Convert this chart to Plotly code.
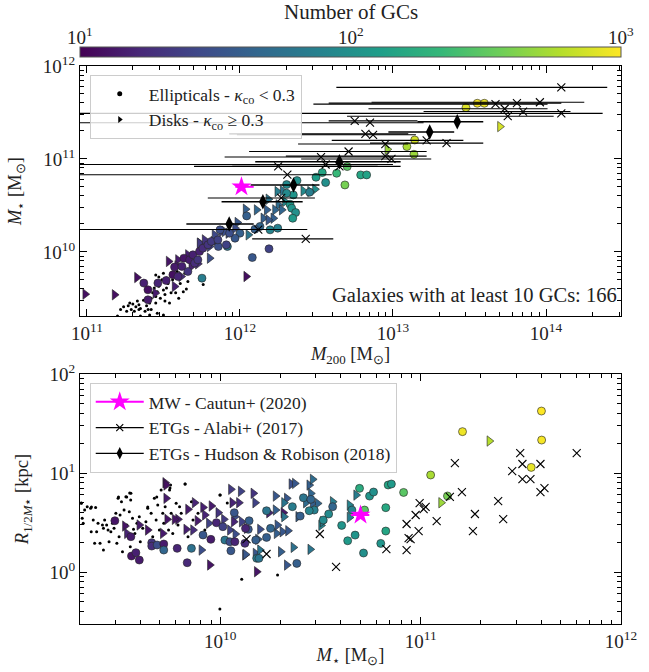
import numpy as np
import plotly.graph_objects as go

# ---------------- DATA (log10 values) ----------------
# Top panel: simulated galaxies with >= 10 GCs  (log M200, log M*, N_GC)
top_ell_lm200 = [13.477, 13.551, 13.597, 13.142, 13.091, 13.137, 12.701, 12.632, 12.686, 12.538,
                 12.497, 12.560, 12.789, 12.828, 12.455, 12.373, 12.305, 12.349, 12.305, 12.327,
                 12.338, 12.364, 12.345, 12.044, 12.131, 12.197, 12.247, 12.098, 12.000, 11.968,
                 11.918, 11.859, 11.870, 12.190, 12.081, 11.752, 11.372, 11.399, 11.399, 11.464,
                 11.518, 11.562, 11.573, 11.595, 11.621, 11.634, 11.660, 11.671, 11.693, 11.704,
                 11.736, 11.725, 11.758, 11.791, 11.813, 11.856, 11.911, 11.932]
top_ell_lmstar = [11.552, 11.599, 11.599, 11.204, 11.133, 11.050, 10.918, 10.846, 10.720, 10.853,
                  10.803, 10.746, 10.828, 10.828, 10.642, 10.767, 10.724, 10.613, 10.631, 10.513,
                  10.470, 10.423, 10.362, 10.387, 10.273, 10.237, 10.255, 10.244, 10.201, 10.147,
                  10.058, 10.058, 10.237, 10.033, 9.939, 9.717, 9.664, 9.592, 9.484, 9.664,
                  9.692, 9.753, 9.836, 9.735, 9.843, 9.932, 9.789, 9.914, 9.968, 9.879,
                  10.004, 9.914, 10.040, 10.076, 10.112, 10.129, 10.076, 10.201]
top_ell_ngc = [800, 950, 900, 750, 550, 500, 300, 220, 380, 150,
               130, 100, 150, 140, 70, 100, 90, 110, 90, 120,
               110, 100, 120, 40, 45, 80, 75, 40, 40, 35,
               60, 30, 30, 25, 35, 70, 15, 12, 14, 16,
               15, 12, 14, 16, 15, 13, 20, 14, 15, 18,
               15, 20, 18, 20, 22, 25, 25, 30]

top_disk_lm200 = [13.699, 12.963, 12.414, 12.490, 12.244, 12.279, 12.458, 12.294, 12.186, 12.251,
                  12.037, 12.109, 12.175, 12.229, 12.153, 12.218, 12.186, 12.273, 12.055, 11.983,
                  11.968, 11.924, 11.880, 11.848, 11.826, 11.782, 11.739, 10.989, 11.181, 11.327,
                  11.534, 12.041, 11.660, 11.736, 11.769, 11.802, 11.725, 11.682, 11.595, 11.616,
                  11.573, 11.447, 11.802, 11.834, 11.900, 11.590]
top_disk_lmstar = [11.348, 11.104, 10.656, 10.674, 10.649, 10.656, 10.649, 10.541, 10.567, 10.506,
                   10.459, 10.452, 10.452, 10.452, 10.362, 10.362, 10.344, 10.452, 10.183, 10.316,
                   10.255, 10.201, 10.219, 10.129, 10.111, 10.093, 10.093, 9.545, 9.538, 9.724,
                   9.897, 9.735, 9.968, 10.094, 10.129, 9.932, 9.871, 9.843, 9.914, 9.735,
                   9.628, 9.556, 10.058, 10.183, 10.219, 9.850]
top_disk_ngc = [750, 500, 90, 100, 70, 60, 80, 90, 60, 50,
                40, 45, 40, 45, 40, 40, 35, 45, 60, 35,
                30, 30, 25, 25, 25, 20, 20, 12, 12, 12,
                13, 12, 15, 22, 20, 30, 18, 15, 14, 18,
                15, 14, 25, 28, 30, 14]

# Top panel: galaxies with fewer than 10 GCs (log M200, log M*)
top_dot_lm200 = [11.20, 11.22, 11.24, 11.26, 11.27, 11.28, 11.29, 11.30, 11.31, 11.32,
                 11.33, 11.34, 11.34, 11.35, 11.37, 11.38, 11.39, 11.40, 11.41, 11.42,
                 11.42, 11.43, 11.44, 11.45, 11.45, 11.46, 11.46, 11.47, 11.48, 11.49,
                 11.50, 11.50, 11.51, 11.52, 11.52, 11.53, 11.54, 11.55, 11.55, 11.56,
                 11.57, 11.58, 11.59, 11.60, 11.61, 11.62, 11.63, 11.64, 11.65, 11.66,
                 11.50, 11.41, 11.35, 11.46, 11.51, 11.56, 11.45, 11.47, 11.76, 11.25,
                 11.35, 11.45]
top_dot_lmstar = [9.31, 9.38, 9.41, 9.36, 9.42, 9.45, 9.38, 9.44, 9.36, 9.41,
                  9.47, 9.38, 9.43, 9.39, 9.48, 9.36, 9.42, 9.38, 9.45, 9.38,
                  9.50, 9.56, 9.61, 9.45, 9.52, 9.66, 9.57, 9.63, 9.50, 9.70,
                  9.59, 9.77, 9.54, 9.61, 9.72, 9.66, 9.45, 9.77, 9.56, 9.70,
                  9.61, 9.56, 9.79, 9.50, 9.66, 9.73, 9.57, 9.77, 9.60, 9.68,
                  9.32, 9.32, 9.31, 9.34, 9.47, 9.84, 9.75, 9.73, 9.65, 9.26,
                  9.28, 9.22]

# Alabi+ (2017) top: log M200, lower, upper, log M*
alabi_lm200 = [14.10, 13.96, 13.81, 13.67, 13.73, 13.85, 14.10, 13.75, 12.75, 12.85,
               12.82, 12.87, 13.22, 13.35, 12.95, 12.71, 12.53, 12.95, 12.99, 12.65,
               12.56, 12.25, 12.31, 12.27, 12.12, 12.43]
alabi_lm200_lo = [12.63, 12.86, 12.58, 12.48, 12.84, 13.20, 10.80, 12.70, 12.58, 10.80,
                  11.93, 11.98, 12.60, 12.85, 12.38, 12.06, 11.90, 12.30, 12.40, 11.95,
                  10.80, 11.70, 10.80, 11.79, 10.80, 12.08]
alabi_lm200_hi = [14.40, 14.25, 14.10, 14.01, 14.01, 14.16, 14.37, 14.05, 13.16, 13.20,
                  13.10, 13.15, 13.46, 13.59, 13.10, 13.22, 13.00, 13.22, 13.25, 13.05,
                  13.00, 12.90, 12.60, 12.49, 12.44, 12.61]
alabi_lmstar_top = [11.77, 11.61, 11.60, 11.59, 11.54, 11.51, 11.49, 11.46, 11.41, 11.39,
                    11.27, 11.26, 11.20, 11.17, 11.16, 11.08, 11.02, 11.03, 11.00, 10.92,
                    10.94, 10.92, 10.83, 10.58, 10.24, 10.14]

# Hudson & Robison (2018): log M200, lower, upper, log M*
hr_lm200 = [13.42, 13.24, 12.65, 12.35, 12.15, 11.93]
hr_lm200_lo = [13.16, 12.97, 12.10, 12.07, 11.88, 11.65]
hr_lm200_hi = [13.59, 13.40, 13.05, 12.52, 12.41, 12.09]
hr_lmstar = [11.40, 11.29, 10.97, 10.72, 10.54, 10.30]

# Milky Way (Cautun+ 2020)
mw_lm200, mw_lm200_lo, mw_lm200_hi = 12.01, 11.97, 12.09
mw_lmstar, mw_lmstar_lo, mw_lmstar_hi = 10.70, 10.653, 10.744
mw_lrhalf = 0.576

# Bottom panel: simulated galaxies with >= 10 GCs (log M*, log R_1/2, N_GC)
bot_ell_lmstar = [9.474, 9.554, 9.557, 9.579, 9.596, 9.658, 9.658, 9.685, 9.718, 9.718,
                  9.785, 9.835, 9.856, 9.914, 9.953, 9.981, 10.023, 10.048, 10.073, 10.123,
                  10.053, 10.070, 10.144, 10.140, 10.177, 10.182, 10.013, 10.126, 10.231, 10.251,
                  10.231, 10.193, 10.382, 10.399, 10.360, 10.415, 10.452, 10.469, 10.444, 10.561,
                  10.657, 10.695, 10.745, 10.765, 10.720, 10.826, 10.838, 10.854, 10.915, 10.541,
                  10.514, 10.606, 10.673, 10.636, 10.826, 10.801, 10.715, 11.603, 11.209, 11.604,
                  11.552, 11.050, 11.134]
bot_ell_lr = [0.518, 0.357, 0.162, 0.195, 0.121, 0.296, 0.262, 0.273, 0.283, 0.222,
              0.239, 0.094, 0.239, 0.374, 0.330, 0.498, 0.323, 0.306, 0.306, 0.290,
              0.215, 0.599, 0.518, 0.431, 0.323, 0.138, 0.458, 0.441, 0.350, 0.441,
              0.619, 0.138, 0.087, 0.565, 0.660, 0.750, 0.734, 0.626, 0.619, 0.660,
              0.626, 0.845, 0.767, 0.808, 0.626, 0.650, 0.879, 0.889, 0.804, 0.586,
              0.525, 0.471, 0.373, 0.316, 0.414, 0.289, 0.192, 1.626, 1.418, 1.333,
              1.057, 0.980, 0.768]
bot_ell_ngc = [13, 14, 13, 15, 14, 20, 18, 30, 14, 45,
               16, 17, 55, 35, 14, 16, 60, 30, 16, 18,
               35, 35, 40, 35, 40, 70, 25, 16, 40, 45,
               60, 60, 40, 40, 70, 60, 45, 75, 80, 45,
               80, 170, 110, 100, 300, 160, 150, 120, 300, 90,
               90, 110, 110, 120, 150, 110, 100, 1000, 900, 950,
               850, 550, 380]

bot_disk_lmstar = [9.725, 9.730, 9.730, 9.839, 9.872, 9.914, 9.956, 9.923, 9.886, 9.943,
                   9.990, 10.018, 10.053, 10.102, 10.060, 10.093, 10.165, 10.174, 10.073, 10.107,
                   10.132, 10.048, 9.789, 9.735, 9.772, 9.830, 9.864, 9.906, 9.948, 10.123,
                   9.524, 9.534, 9.596, 9.638, 9.713, 10.182, 10.276, 10.332, 10.355, 10.372,
                   10.444, 10.461, 10.452, 10.461, 10.486, 10.427, 10.318, 10.276, 10.315, 10.318,
                   10.389, 10.561, 10.645, 10.678, 10.503, 10.511, 10.645, 10.067, 10.188, 10.198,
                   10.281, 10.310, 10.338, 10.285, 10.243, 10.126, 10.176, 10.198, 10.302, 10.365,
                   10.449, 10.332, 10.075, 11.343, 11.102]
bot_disk_lr = [0.902, 0.879, 0.744, 0.633, 0.700, 0.653, 0.667, 0.576, 0.518, 0.492,
               0.599, 0.532, 0.835, 0.815, 0.700, 0.700, 0.795, 0.700, 0.559, 0.508,
               0.441, 0.424, 0.532, 0.532, 0.532, 0.431, 0.424, 0.222, 0.071, 0.172,
               0.464, 0.390, 0.475, 0.424, 0.390, 0.003, 0.767, 0.744, 0.889, 0.895,
               0.878, 0.936, 0.794, 0.693, 0.693, 0.700, 0.700, 0.626, 0.599, 0.559,
               0.559, 0.710, 0.676, 0.777, 0.471, 0.508, 0.552, 0.508, 0.330, 0.431,
               0.390, 0.407, 0.417, 0.474, 0.599, 0.178, 0.188, 0.222, 0.205, 0.249,
               0.229, 0.070, 0.384, 1.323, 0.700]
bot_disk_ngc = [13, 12, 14, 14, 16, 15, 14, 16, 14, 25,
                20, 22, 22, 25, 16, 18, 20, 25, 30, 25,
                20, 25, 14, 13, 13, 15, 18, 30, 13, 30,
                13, 16, 14, 13, 14, 13, 35, 35, 30, 35,
                40, 50, 45, 40, 45, 50, 60, 40, 14, 60,
                40, 70, 80, 70, 80, 70, 70, 16, 40, 30,
                40, 35, 35, 35, 16, 35, 35, 60, 40, 55,
                60, 35, 30, 600, 500]

# Bottom panel: galaxies with fewer than 10 GCs (log M*, log R_1/2)
bot_dot_lmstar = [9.306, 9.311, 9.316, 9.323, 9.336, 9.353, 9.356, 9.366, 9.373, 9.378,
                  9.383, 9.390, 9.400, 9.412, 9.417, 9.417, 9.423, 9.433, 9.440, 9.445,
                  9.454, 9.462, 9.470, 9.479, 9.484, 9.490, 9.495, 9.500, 9.507, 9.512,
                  9.520, 9.529, 9.534, 9.541, 9.546, 9.551, 9.554, 9.562, 9.567, 9.574,
                  9.584, 9.596, 9.601, 9.613, 9.629, 9.638, 9.646, 9.655, 9.663, 9.671,
                  9.680, 9.688, 9.696, 9.705, 9.713, 9.718, 9.725, 9.735, 9.742, 9.747,
                  9.752, 9.755, 9.763, 9.772, 9.780, 9.789, 9.797, 9.805, 9.825, 9.839,
                  9.856, 9.864, 9.998, 10.107, 9.998, 9.923, 9.889, 9.492, 9.533, 9.548,
                  9.553, 9.683, 9.638, 9.749, 9.824, 10.000, 9.307, 9.357, 10.035, 10.286]
bot_dot_lr = [0.694, 0.542, 0.492, 0.626, 0.660, 0.643, 0.407, 0.525, 0.290, 0.653,
              0.407, 0.492, 0.290, 0.475, 0.441, 0.222, 0.525, 0.475, 0.424, 0.307,
              0.407, 0.492, 0.441, 0.593, 0.290, 0.744, 0.357, 0.576, 0.710, 0.205,
              0.626, 0.761, 0.475, 0.374, 0.609, 0.256, 0.795, 0.542, 0.431, 0.390,
              0.492, 0.559, 0.307, 0.441, 0.508, 0.643, 0.424, 0.593, 0.357, 0.744,
              0.525, 0.677, 0.424, 0.828, 0.593, 0.492, 0.660, 0.744, 0.424, 0.828,
              0.879, 0.593, 0.390, 0.542, 0.694, 0.475, 0.660, 0.593, 0.889, 0.357,
              0.710, 0.525, 0.778, -0.074, -0.374, 0.424, 0.593, 0.758, 0.758, 0.798,
              0.727, 0.758, 0.657, 0.848, 0.889, 0.778, 0.697, 0.657, 0.697, -0.030]

# Alabi+ (2017) bottom: log M*, log R_e
alabi_lmstar_bot = [11.779, 11.497, 11.171, 11.508, 11.598, 11.457, 11.508, 11.548, 11.598, 11.618,
                    11.206, 11.146, 11.387, 10.995, 11.025, 11.015, 10.975, 11.271, 11.412, 11.080,
                    10.930, 11.261, 10.990, 10.940, 10.950, 10.829, 10.930, 10.497, 10.578, 10.231,
                    10.131]
alabi_lr_bot = [1.202, 1.202, 1.101, 1.091, 1.091, 1.020, 0.939, 0.939, 0.808, 0.848,
                0.808, 0.758, 0.717, 0.697, 0.657, 0.636, 0.576, 0.586, 0.535, 0.515,
                0.485, 0.414, 0.414, 0.343, 0.333, 0.232, 0.222, 0.384, 0.051, 0.182,
                0.333]

# reference lines (log M*)
mstar_thresholds = [10.5, 11.0]

# axis ticks
top_x_ticks = [11, 12, 13, 14]
top_y_ticks = [10, 11, 12]
bot_x_ticks = [10, 11, 12]
bot_y_ticks = [0, 1, 2]
cbar_ticks = [1, 2, 3]
n_galaxies = 166

# ---------------- helpers ----------------
def P(v):
    return 10 ** np.asarray(v, dtype=float)

def sup(e):
    return "10<sup>%d</sup>" % e

def minor_vals(lo, hi):
    return [k * 10.0 ** n for n in range(lo, hi) for k in range(2, 10)]

FONT = "Liberation Serif"
EDGE = dict(width=0.7, color="rgba(40,40,40,0.9)")

fig = go.Figure()

# ---- top panel ----
fig.add_trace(go.Scatter(x=P(top_dot_lm200), y=P(top_dot_lmstar), mode="markers",
                         marker=dict(size=3, color="black"), showlegend=False,
                         xaxis="x", yaxis="y"))
fig.add_trace(go.Scatter(x=P(top_disk_lm200), y=P(top_disk_lmstar), mode="markers",
                         marker=dict(symbol="triangle-right", size=9,
                                     color=np.log10(top_disk_ngc), coloraxis="coloraxis", line=EDGE),
                         showlegend=False, xaxis="x", yaxis="y"))
fig.add_trace(go.Scatter(x=P(top_ell_lm200), y=P(top_ell_lmstar), mode="markers",
                         marker=dict(symbol="circle", size=8,
                                     color=np.log10(top_ell_ngc), coloraxis="coloraxis", line=EDGE),
                         showlegend=False, xaxis="x", yaxis="y"))
ax = P(alabi_lm200)
fig.add_trace(go.Scatter(x=ax, y=P(alabi_lmstar_top), mode="markers",
                         marker=dict(symbol="x-thin", size=8, line=dict(width=1.1, color="black")),
                         error_x=dict(type="data", symmetric=False, array=P(alabi_lm200_hi) - ax,
                                      arrayminus=ax - P(alabi_lm200_lo), color="black",
                                      thickness=1.1, width=0),
                         showlegend=False, xaxis="x", yaxis="y"))
hx = P(hr_lm200)
fig.add_trace(go.Scatter(x=hx, y=P(hr_lmstar), mode="markers",
                         marker=dict(symbol="diamond-tall", size=11, color="black"),
                         error_x=dict(type="data", symmetric=False, array=P(hr_lm200_hi) - hx,
                                      arrayminus=hx - P(hr_lm200_lo), color="black",
                                      thickness=1.6, width=0),
                         showlegend=False, xaxis="x", yaxis="y"))
mx = 10 ** mw_lm200
fig.add_trace(go.Scatter(x=[mx], y=[10 ** mw_lmstar], mode="markers",
                         marker=dict(symbol="star", size=15, color="magenta", line=dict(width=0)),
                         error_x=dict(type="data", symmetric=False, array=[10 ** mw_lm200_hi - mx],
                                      arrayminus=[mx - 10 ** mw_lm200_lo], color="magenta",
                                      thickness=2, width=0),
                         showlegend=False, xaxis="x", yaxis="y"))

# ---- bottom panel ----
fig.add_trace(go.Scatter(x=P(bot_dot_lmstar), y=P(bot_dot_lr), mode="markers",
                         marker=dict(size=3, color="black"), showlegend=False,
                         xaxis="x2", yaxis="y2"))
fig.add_trace(go.Scatter(x=P(bot_disk_lmstar), y=P(bot_disk_lr), mode="markers",
                         marker=dict(symbol="triangle-right", size=9,
                                     color=np.log10(bot_disk_ngc), coloraxis="coloraxis", line=EDGE),
                         showlegend=False, xaxis="x2", yaxis="y2"))
fig.add_trace(go.Scatter(x=P(bot_ell_lmstar), y=P(bot_ell_lr), mode="markers",
                         marker=dict(symbol="circle", size=8,
                                     color=np.log10(bot_ell_ngc), coloraxis="coloraxis", line=EDGE),
                         showlegend=False, xaxis="x2", yaxis="y2"))
fig.add_trace(go.Scatter(x=P(alabi_lmstar_bot), y=P(alabi_lr_bot), mode="markers",
                         marker=dict(symbol="x-thin", size=8, line=dict(width=1.1, color="black")),
                         showlegend=False, xaxis="x2", yaxis="y2"))
sx = 10 ** mw_lmstar
fig.add_trace(go.Scatter(x=[sx], y=[10 ** mw_lrhalf], mode="markers",
                         marker=dict(symbol="star", size=15, color="magenta", line=dict(width=0)),
                         error_x=dict(type="data", symmetric=False, array=[10 ** mw_lmstar_hi - sx],
                                      arrayminus=[sx - 10 ** mw_lmstar_lo], color="magenta",
                                      thickness=2, width=0),
                         showlegend=False, xaxis="x2", yaxis="y2"))

# ---- legend entries ----
fig.add_trace(go.Scatter(x=[None], y=[None], mode="markers", name="Ellipticals - <i>κ</i><sub>co</sub> &lt; 0.3",
                         marker=dict(symbol="circle", size=5, color="black"), legend="legend",
                         xaxis="x", yaxis="y"))
fig.add_trace(go.Scatter(x=[None], y=[None], mode="markers", name="Disks - <i>κ</i><sub>co</sub> ≥ 0.3",
                         marker=dict(symbol="triangle-right", size=6, color="black"), legend="legend",
                         xaxis="x", yaxis="y"))
fig.add_trace(go.Scatter(x=[None], y=[None], mode="lines+markers", name="MW - Cautun+ (2020)",
                         line=dict(color="magenta", width=2),
                         marker=dict(symbol="star", size=15, color="magenta"), legend="legend2",
                         xaxis="x2", yaxis="y2"))
fig.add_trace(go.Scatter(x=[None], y=[None], mode="lines+markers", name="ETGs - Alabi+ (2017)",
                         line=dict(color="black", width=1.2),
                         marker=dict(symbol="x-thin", size=7, line=dict(width=1.2, color="black")),
                         legend="legend2", xaxis="x2", yaxis="y2"))
fig.add_trace(go.Scatter(x=[None], y=[None], mode="lines+markers", name="ETGs - Hudson &amp; Robison (2018)",
                         line=dict(color="black", width=1.2),
                         marker=dict(symbol="diamond-tall", size=9, color="black"),
                         legend="legend2", xaxis="x2", yaxis="y2"))

# ---- reference lines ----
shapes = []
for t in mstar_thresholds:
    shapes.append(dict(type="line", xref="x domain", x0=0, x1=1, yref="y", y0=t, y1=t,
                       line=dict(color="black", width=1, dash="dot"), layer="below"))
    shapes.append(dict(type="line", xref="x2", x0=t, x1=t, yref="y2 domain", y0=0, y1=1,
                       line=dict(color="black", width=1, dash="dot"), layer="below"))

# ---- axes ----
TICKFONT = dict(family=FONT, size=19, color="#222")
TITLEFONT = dict(family=FONT, size=18.5, color="#222")

def axis_common(tickvals, lo, hi, rng, title=None, standoff=8):
    d = dict(type="log", range=rng, tickmode="array", tickvals=[10.0 ** v for v in tickvals],
             ticktext=[sup(v) for v in tickvals], ticks="inside", ticklen=7, tickwidth=1,
             tickcolor="black", showline=True, linecolor="black", linewidth=1.2,
             mirror="allticks", showgrid=False, zeroline=False, automargin=False,
             minor=dict(tickmode="array", tickvals=minor_vals(lo, hi), ticks="inside",
                        ticklen=3.5, tickwidth=1, tickcolor="black", showgrid=False),
             tickfont=TICKFONT)
    if title:
        d["title"] = dict(text=title, font=TITLEFONT, standoff=standoff)
    return d

xa = axis_common(top_x_ticks, 10, 15, [10.955, 14.49], "<i>M</i><sub>200</sub> [M<sub>⊙</sub>]", 2)
xa.update(domain=[0, 1], anchor="y")
ya = axis_common(top_y_ticks, 9, 12, [9.31, 12.0], "<i>M</i><sub>⋆</sub> [M<sub>⊙</sub>]", 10)
ya.update(domain=[0.552, 1.0], anchor="x")
xb = axis_common(bot_x_ticks, 9, 12, [9.3, 12.0], "<i>M</i><sub>⋆</sub> [M<sub>⊙</sub>]", 2)
xb.update(domain=[0, 1], anchor="y2")
yb = axis_common(bot_y_ticks, -1, 2, [-0.525, 2.0], "<i>R</i><sub>1/2<i>M</i>⋆</sub> [kpc]", 10)
yb.update(domain=[0, 0.448], anchor="x2")

annotations = [
    dict(text="Galaxies with at least 10 GCs: %d" % n_galaxies, xref="paper", yref="paper",
         x=0.997, y=0.566, xanchor="right", yanchor="bottom", showarrow=False,
         font=dict(family=FONT, size=20.5, color="#222")),
    dict(text="Number of GCs", xref="paper", yref="paper", x=0.5, y=1.097, xanchor="center",
         yanchor="middle", showarrow=False, font=dict(family=FONT, size=21, color="#222")),
]
for i, t in enumerate(cbar_ticks):
    annotations.append(dict(text=sup(t), xref="paper", yref="paper", x=(t - 1) / 2.0, y=1.054,
                            xanchor="center", yanchor="middle", showarrow=False,
                            font=dict(family=FONT, size=19, color="#222")))

leg_common = dict(xanchor="left", yanchor="top", bgcolor="rgba(255,255,255,0.8)",
                  bordercolor="#cccccc", borderwidth=1, font=dict(family=FONT, size=17.5, color="#222"),
                  tracegroupgap=2, itemwidth=48)

fig.update_layout(
    width=649, height=672,
    margin=dict(l=80, r=28, t=66, b=48),
    paper_bgcolor="white", plot_bgcolor="white",
    font=dict(family=FONT, color="black"),
    xaxis=xa, yaxis=ya, xaxis2=xb, yaxis2=yb,
    coloraxis=dict(colorscale="Viridis", cmin=1, cmax=3,
                   colorbar=dict(orientation="h", x=0.5, xanchor="center", y=1.0143, yanchor="bottom",
                                 len=1.0, lenmode="fraction", thickness=10, xpad=0, ypad=0,
                                 showticklabels=False, ticks="", outlinewidth=1, outlinecolor="#555")),
    legend=dict(x=0.018, y=0.984, **leg_common),
    legend2=dict(x=0.018, y=0.432, **leg_common),
    shapes=shapes, annotations=annotations,
)

# remove the browser's default 8 px body margin so the figure fills the window exactly
fig.write_html("out.html", config={"displayModeBar": False},
               post_script="document.body.style.margin='0px';document.body.style.overflow='hidden';")
